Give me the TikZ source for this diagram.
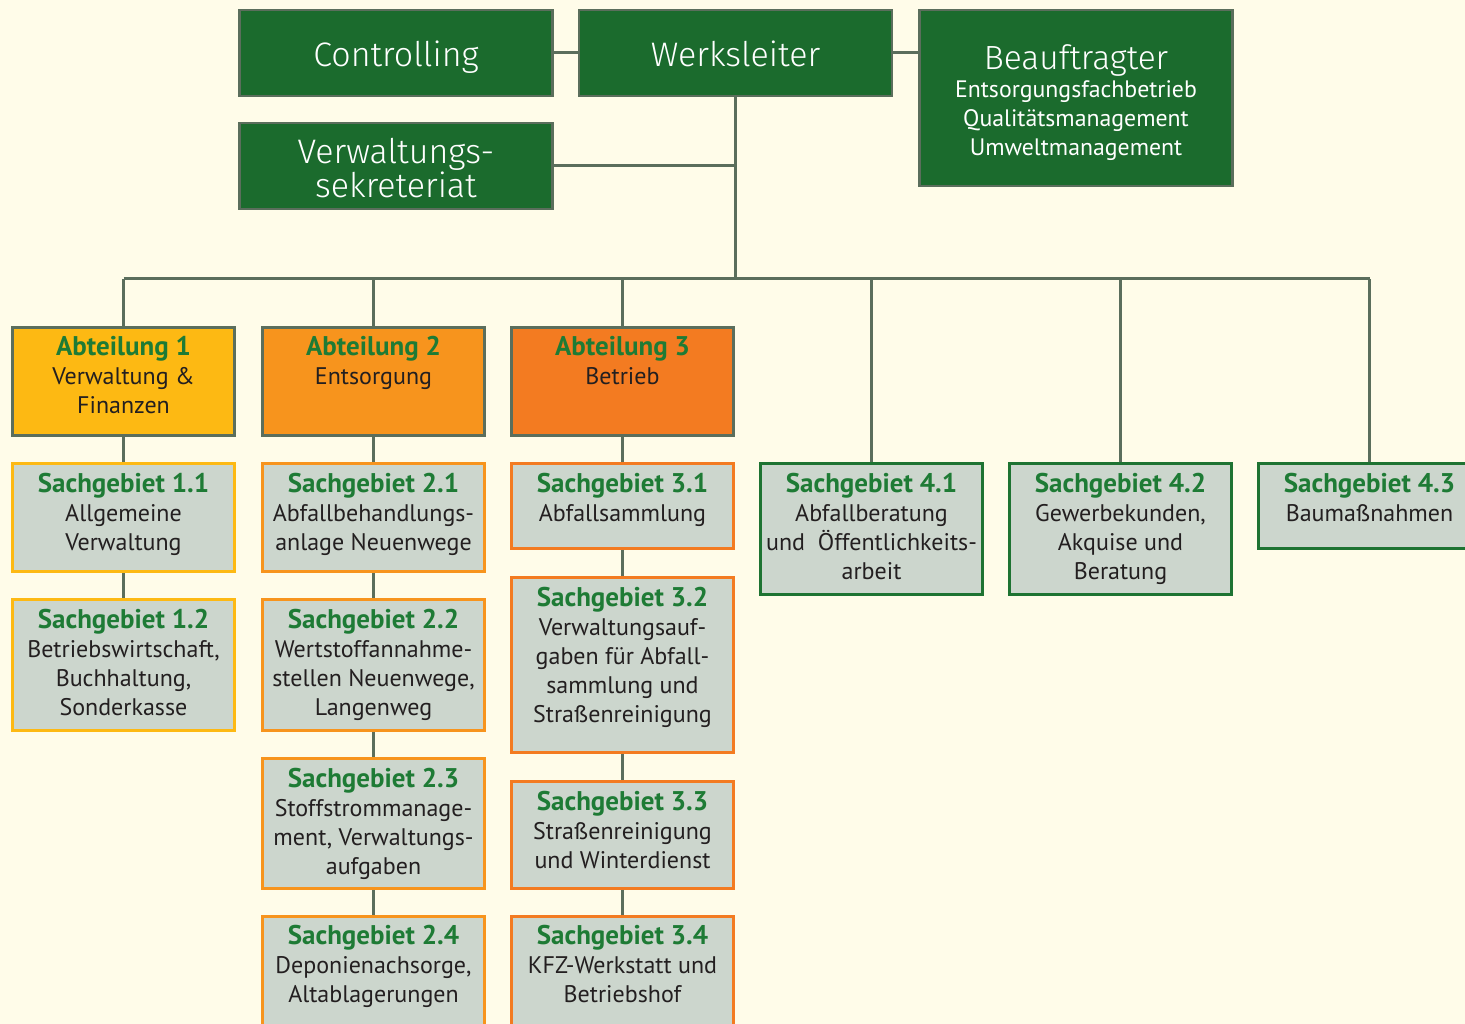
\documentclass[tikz,border=0pt]{standalone}
\usepackage{fontspec}
\setmainfont{PT Sans}
\IfFontExistsTF{Fira Sans Light}{\newfontfamily\lightfont{Fira Sans Light}}{\newfontfamily\lightfont{PT Sans}}
\definecolor{bgc}{HTML}{FFFCE9}
\definecolor{dkgreen}{HTML}{1B6B2D}
\definecolor{edge}{HTML}{5B6E5C}
\definecolor{sgfill}{HTML}{CCD6CD}
\definecolor{ttlgreen}{HTML}{1E7B35}
\definecolor{txtdark}{HTML}{231F20}
\definecolor{cA}{HTML}{FDB913}
\definecolor{cB}{HTML}{F7941D}
\definecolor{cC}{HTML}{F37B21}
\definecolor{cD}{HTML}{1E7332}
\newcommand{\ttlfont}{\color{ttlgreen}\bfseries\fontsize{27}{29}\selectfont}
\begin{document}
\begin{tikzpicture}[x=1pt,y=-1pt,
  topbox/.style={draw=edge, line width=2.5pt, fill=dkgreen, text=white, inner sep=0pt, align=center, minimum width=313, minimum height=86},
  headfont/.style={font=\lightfont\fontsize{34}{31}\selectfont},
  abtbox/.style={draw=edge, line width=3pt, minimum width=222, minimum height=108, inner sep=0pt},
  sgbox/.style={fill=sgfill, line width=3pt, minimum width=222, inner sep=0pt},
  lbl/.style={anchor=north, align=center, inner sep=0pt, text=txtdark, font=\fontsize{24}{29}\selectfont},
  conn/.style={draw=edge, line width=3pt}]
\useasboundingbox (0,0) rectangle (1465,1024);
\fill[bgc] (0,0) rectangle (1465,1024);
\clip (0,0) rectangle (1465,1024);

% top level
\node[topbox, headfont, text height=34pt, text depth=7pt] (ctrl) at (396,53) {Controlling};
\node[topbox, headfont, text height=34pt, text depth=7pt] (werk) at (735.5,53) {Werksleiter};
\node[topbox, minimum height=176] (beauf) at (1076,98) {};
\node[anchor=north, align=center, inner sep=0pt, text=white, font=\fontsize{23.8}{29}\selectfont] (beaufT) at ([yshift=-36pt]beauf.north) {{\lightfont\fontsize{33.5}{31}\selectfont Beauftragter}\\[-1pt]Entsorgungsfachbetrieb\\Qualitätsmanagement\\Umweltmanagement};
\node[topbox] (verw) at (396,166) {};
\node[headfont, text=white, align=center, inner sep=0pt] (verwT) at ([yshift=-2pt]verw.center) {Verwaltungs-\\sekreteriat};

\coordinate (bus) at (735.5,279);

% Abteilungen
\node[abtbox, fill=cA] (a1) at (123.5,381.5) {};
\node[abtbox, fill=cB] (a2) at (373.5,381.5) {};
\node[abtbox, fill=cC] (a3) at (622.5,381.5) {};

% Sachgebiete
\node[sgbox, draw=cA, minimum height=108] (s11) at (123.5,517.5) {};
\node[sgbox, draw=cA, minimum height=131] (s12) at (123.5,665) {};
\node[sgbox, draw=cB, minimum height=108] (s21) at (373.5,517.5) {};
\node[sgbox, draw=cB, minimum height=131] (s22) at (373.5,665) {};
\node[sgbox, draw=cB, minimum height=130] (s23) at (373.5,823.5) {};
\node[sgbox, draw=cB, minimum height=120] (s24) at (373.5,976) {};
\node[sgbox, draw=cC, minimum height=85] (s31) at (622.5,506) {};
\node[sgbox, draw=cC, minimum height=175] (s32) at (622.5,665) {};
\node[sgbox, draw=cC, minimum height=107] (s33) at (622.5,835) {};
\node[sgbox, draw=cC, minimum height=120] (s34) at (622.5,976) {};
\node[sgbox, draw=cD, minimum height=131] (s41) at (871.5,529) {};
\node[sgbox, draw=cD, minimum height=131] (s42) at (1120.5,529) {};
\node[sgbox, draw=cD, minimum height=85] (s43) at (1369.5,506) {};

% connectors
\draw[conn] (ctrl.east) -- (werk.west);
\draw[conn] (werk.east) -- (werk.east -| beauf.west);
\draw[conn] (verw.east) -- (verw.east -| werk.south);
\draw[conn] (werk.south) -- (bus);
\draw[conn] (a1.north |- bus) -- (s43.north |- bus);
\draw[conn] (a1.north |- bus) -- (a1.north);
\draw[conn] (a2.north |- bus) -- (a2.north);
\draw[conn] (a3.north |- bus) -- (a3.north);
\draw[conn] (s41.north |- bus) -- (s41.north);
\draw[conn] (s42.north |- bus) -- (s42.north);
\draw[conn] (s43.north |- bus) -- (s43.north);
\draw[conn] (a1.south) -- (s11.north);
\draw[conn] (s11.south) -- (s12.north);
\draw[conn] (a2.south) -- (s21.north);
\draw[conn] (s21.south) -- (s22.north);
\draw[conn] (s22.south) -- (s23.north);
\draw[conn] (s23.south) -- (s24.north);
\draw[conn] (a3.south) -- (s31.north);
\draw[conn] (s31.south) -- (s32.north);
\draw[conn] (s32.south) -- (s33.north);
\draw[conn] (s33.south) -- (s34.north);

% labels
\node[lbl] (a1t) at ([yshift=-10pt]a1.north) {{\ttlfont Abteilung 1}\\Verwaltung \&\\Finanzen};
\node[lbl] (a2t) at ([yshift=-10pt]a2.north) {{\ttlfont Abteilung 2}\\Entsorgung};
\node[lbl] (a3t) at ([yshift=-10pt]a3.north) {{\ttlfont Abteilung 3}\\Betrieb};

\node[lbl] (s11t) at ([yshift=-11pt]s11.north) {{\ttlfont Sachgebiet 1.1}\\Allgemeine\\Verwaltung};
\node[lbl] (s12t) at ([yshift=-11pt]s12.north) {{\ttlfont Sachgebiet 1.2}\\Betriebswirtschaft,\\Buchhaltung,\\Sonderkasse};
\node[lbl] (s21t) at ([yshift=-11pt]s21.north) {{\ttlfont Sachgebiet 2.1}\\Abfallbehandlungs-\\anlage Neuenwege};
\node[lbl] (s22t) at ([yshift=-11pt]s22.north) {{\ttlfont Sachgebiet 2.2}\\Wertstoffannahme-\\stellen Neuenwege,\\Langenweg};
\node[lbl] (s23t) at ([yshift=-11pt]s23.north) {{\ttlfont Sachgebiet 2.3}\\Stoffstrommanage-\\ment, Verwaltungs-\\aufgaben};
\node[lbl] (s24t) at ([yshift=-11pt]s24.north) {{\ttlfont Sachgebiet 2.4}\\Deponienachsorge,\\Altablagerungen};
\node[lbl] (s31t) at ([yshift=-11pt]s31.north) {{\ttlfont Sachgebiet 3.1}\\Abfallsammlung};
\node[lbl] (s32t) at ([yshift=-11pt]s32.north) {{\ttlfont Sachgebiet 3.2}\\Verwaltungsauf-\\gaben für Abfall-\\sammlung und\\Straßenreinigung};
\node[lbl] (s33t) at ([yshift=-11pt]s33.north) {{\ttlfont Sachgebiet 3.3}\\Straßenreinigung\\und Winterdienst};
\node[lbl] (s34t) at ([yshift=-11pt]s34.north) {{\ttlfont Sachgebiet 3.4}\\KFZ-Werkstatt und\\Betriebshof};
\node[lbl] (s41t) at ([yshift=-11pt]s41.north) {{\ttlfont Sachgebiet 4.1}\\Abfallberatung\\und\ \ Öffentlichkeits-\\arbeit};
\node[lbl] (s42t) at ([yshift=-11pt]s42.north) {{\ttlfont Sachgebiet 4.2}\\Gewerbekunden,\\Akquise und\\Beratung};
\node[lbl] (s43t) at ([yshift=-11pt]s43.north) {{\ttlfont Sachgebiet 4.3}\\Baumaßnahmen};
\end{tikzpicture}
\end{document}
